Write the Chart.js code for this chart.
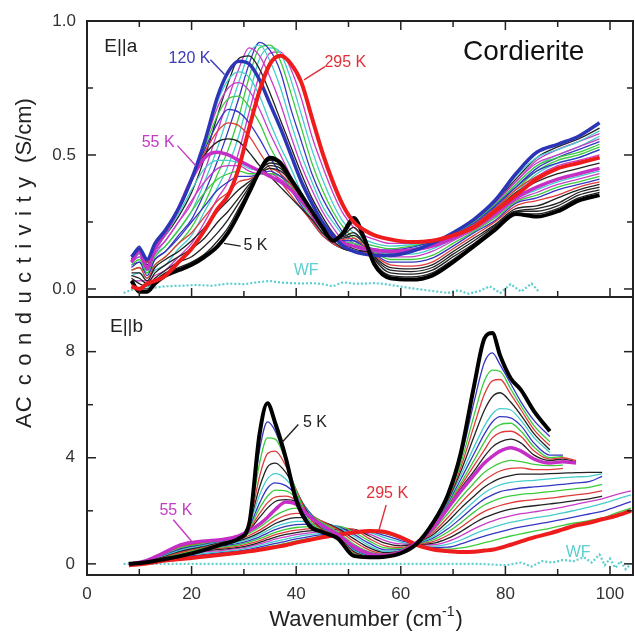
<!DOCTYPE html>
<html>
<head>
<meta charset="utf-8">
<title>Cordierite AC conductivity</title>
<script src="https://cdn.jsdelivr.net/npm/chart.js@4.4.1/dist/chart.umd.min.js"></script>
<style>
  html, body { margin: 0; padding: 0; background: #fff; }
  #wrap { width: 635px; height: 634px; }
</style>
</head>
<body>
<div id="wrap"><canvas id="cond" width="635" height="634"></canvas></div>
<script>
// ---- E||a panel: wavenumber grid (cm-1) and conductivity (S/cm) ----
const xA = [8.5, 10, 11.5, 13, 15, 17.5, 20, 22.5, 25, 27, 29, 31, 33, 35, 37, 39, 41, 43, 45, 47,
            49, 51, 53, 55, 58, 62, 66, 70, 74, 78, 82, 86, 90, 94, 98];

const a5K = [0.03, -0.01, -0.01, 0.02, 0.05, 0.07, 0.09, 0.12, 0.16, 0.21, 0.28, 0.36, 0.44, 0.49, 0.47, 0.41, 0.35, 0.29, 0.23, 0.18,
             0.21, 0.265, 0.19, 0.09, 0.04, 0.035, 0.05, 0.1, 0.16, 0.22, 0.28, 0.27, 0.29, 0.33, 0.35];
const a55K = [0.1, 0.14, 0.08, 0.15, 0.21, 0.3, 0.41, 0.49, 0.51, 0.5, 0.48, 0.46, 0.44, 0.42, 0.4, 0.37, 0.33, 0.28, 0.23, 0.2,
              0.17, 0.16, 0.15, 0.145, 0.14, 0.145, 0.16, 0.19, 0.23, 0.28, 0.34, 0.38, 0.41, 0.43, 0.45];
const a120K = [0.12, 0.15, 0.11, 0.17, 0.22, 0.3, 0.41, 0.55, 0.72, 0.81, 0.85, 0.84, 0.78, 0.69, 0.6, 0.5, 0.4, 0.32, 0.25, 0.2,
               0.16, 0.14, 0.13, 0.125, 0.125, 0.14, 0.17, 0.21, 0.26, 0.33, 0.43, 0.51, 0.54, 0.57, 0.62];
const a295K = [0.01, 0.0, 0.02, 0.03, 0.05, 0.1, 0.15, 0.22, 0.3, 0.35, 0.45, 0.6, 0.74, 0.84, 0.87, 0.84, 0.77, 0.64, 0.51, 0.4,
               0.31, 0.25, 0.22, 0.2, 0.185, 0.175, 0.18, 0.2, 0.23, 0.29, 0.35, 0.41, 0.45, 0.47, 0.49];

// 10 K ... 50 K
const aLowT = [
  [0.03, 0.0, 0.0, 0.03, 0.06, 0.08, 0.1, 0.13, 0.18, 0.23, 0.3, 0.37, 0.44, 0.48, 0.47, 0.41, 0.35, 0.29, 0.23, 0.185, 0.2, 0.25, 0.19, 0.1, 0.05, 0.045, 0.06, 0.11, 0.165, 0.225, 0.28, 0.28, 0.3, 0.34, 0.36],
  [0.04, 0.02, 0.01, 0.04, 0.07, 0.1, 0.12, 0.16, 0.21, 0.26, 0.32, 0.38, 0.44, 0.47, 0.46, 0.41, 0.35, 0.29, 0.23, 0.19, 0.2, 0.23, 0.18, 0.11, 0.06, 0.055, 0.07, 0.12, 0.17, 0.23, 0.29, 0.29, 0.31, 0.35, 0.37],
  [0.05, 0.04, 0.02, 0.06, 0.09, 0.12, 0.15, 0.19, 0.25, 0.29, 0.34, 0.39, 0.43, 0.46, 0.45, 0.4, 0.35, 0.29, 0.23, 0.19, 0.195, 0.21, 0.17, 0.115, 0.07, 0.065, 0.08, 0.13, 0.18, 0.235, 0.29, 0.3, 0.32, 0.36, 0.38],
  [0.06, 0.06, 0.03, 0.08, 0.11, 0.14, 0.18, 0.23, 0.29, 0.33, 0.37, 0.4, 0.43, 0.45, 0.44, 0.4, 0.34, 0.29, 0.23, 0.195, 0.19, 0.2, 0.17, 0.12, 0.08, 0.075, 0.09, 0.14, 0.19, 0.24, 0.3, 0.31, 0.34, 0.37, 0.39],
  [0.07, 0.08, 0.04, 0.09, 0.12, 0.17, 0.21, 0.27, 0.33, 0.36, 0.4, 0.41, 0.43, 0.45, 0.43, 0.39, 0.34, 0.28, 0.23, 0.195, 0.185, 0.19, 0.16, 0.125, 0.09, 0.085, 0.1, 0.15, 0.2, 0.25, 0.31, 0.33, 0.35, 0.38, 0.4],
  [0.08, 0.1, 0.05, 0.11, 0.14, 0.19, 0.25, 0.31, 0.37, 0.4, 0.42, 0.42, 0.43, 0.44, 0.42, 0.39, 0.34, 0.28, 0.23, 0.2, 0.18, 0.18, 0.16, 0.13, 0.1, 0.1, 0.115, 0.16, 0.21, 0.255, 0.32, 0.34, 0.37, 0.39, 0.41],
  [0.09, 0.11, 0.06, 0.12, 0.16, 0.22, 0.29, 0.36, 0.41, 0.43, 0.44, 0.43, 0.43, 0.43, 0.42, 0.38, 0.33, 0.28, 0.23, 0.2, 0.175, 0.17, 0.155, 0.135, 0.11, 0.11, 0.125, 0.17, 0.215, 0.265, 0.325, 0.35, 0.38, 0.4, 0.42],
  [0.1, 0.12, 0.07, 0.13, 0.18, 0.25, 0.33, 0.4, 0.45, 0.46, 0.46, 0.44, 0.43, 0.43, 0.41, 0.38, 0.33, 0.28, 0.23, 0.2, 0.175, 0.17, 0.15, 0.14, 0.12, 0.12, 0.14, 0.18, 0.22, 0.27, 0.33, 0.36, 0.39, 0.41, 0.43],
  [0.1, 0.13, 0.08, 0.14, 0.2, 0.28, 0.37, 0.45, 0.48, 0.48, 0.47, 0.45, 0.44, 0.42, 0.4, 0.37, 0.33, 0.28, 0.23, 0.2, 0.17, 0.16, 0.15, 0.14, 0.13, 0.13, 0.15, 0.185, 0.225, 0.275, 0.335, 0.37, 0.4, 0.42, 0.44]
];
// 60 K ... 110 K
const aMidT = [
  [0.11, 0.15, 0.09, 0.16, 0.21, 0.3, 0.41, 0.5, 0.55, 0.56, 0.55, 0.51, 0.46, 0.42, 0.38, 0.34, 0.3, 0.26, 0.21, 0.18, 0.15, 0.14, 0.14, 0.14, 0.135, 0.145, 0.16, 0.195, 0.235, 0.29, 0.36, 0.4, 0.43, 0.45, 0.47],
  [0.11, 0.15, 0.1, 0.16, 0.21, 0.3, 0.41, 0.51, 0.59, 0.62, 0.61, 0.57, 0.51, 0.45, 0.4, 0.35, 0.3, 0.25, 0.2, 0.17, 0.15, 0.14, 0.135, 0.135, 0.135, 0.14, 0.165, 0.2, 0.24, 0.3, 0.37, 0.42, 0.45, 0.47, 0.49],
  [0.12, 0.16, 0.1, 0.17, 0.21, 0.3, 0.41, 0.52, 0.62, 0.67, 0.66, 0.62, 0.56, 0.49, 0.43, 0.37, 0.31, 0.25, 0.2, 0.17, 0.15, 0.14, 0.13, 0.13, 0.13, 0.14, 0.165, 0.2, 0.245, 0.31, 0.38, 0.44, 0.47, 0.49, 0.52],
  [0.12, 0.16, 0.11, 0.17, 0.22, 0.3, 0.41, 0.53, 0.65, 0.71, 0.72, 0.68, 0.62, 0.53, 0.46, 0.39, 0.32, 0.26, 0.21, 0.17, 0.15, 0.14, 0.13, 0.13, 0.13, 0.14, 0.17, 0.205, 0.25, 0.315, 0.39, 0.46, 0.49, 0.51, 0.54],
  [0.12, 0.15, 0.11, 0.17, 0.22, 0.3, 0.41, 0.54, 0.68, 0.75, 0.77, 0.74, 0.67, 0.58, 0.5, 0.42, 0.34, 0.27, 0.21, 0.17, 0.15, 0.14, 0.13, 0.125, 0.13, 0.14, 0.17, 0.21, 0.255, 0.32, 0.4, 0.47, 0.5, 0.53, 0.56],
  [0.12, 0.15, 0.11, 0.17, 0.22, 0.3, 0.41, 0.54, 0.7, 0.78, 0.81, 0.79, 0.72, 0.62, 0.53, 0.45, 0.36, 0.29, 0.22, 0.18, 0.15, 0.14, 0.13, 0.125, 0.125, 0.14, 0.17, 0.21, 0.26, 0.325, 0.42, 0.49, 0.52, 0.55, 0.59]
];
// 140 K ... 270 K
const aHighT = [
  [0.12, 0.14, 0.1, 0.16, 0.2, 0.27, 0.36, 0.49, 0.65, 0.77, 0.86, 0.87, 0.82, 0.73, 0.63, 0.53, 0.43, 0.34, 0.27, 0.21, 0.17, 0.15, 0.14, 0.13, 0.13, 0.14, 0.17, 0.21, 0.255, 0.325, 0.41, 0.49, 0.53, 0.56, 0.6],
  [0.11, 0.13, 0.09, 0.14, 0.18, 0.25, 0.32, 0.44, 0.59, 0.71, 0.82, 0.9, 0.87, 0.79, 0.69, 0.57, 0.46, 0.37, 0.29, 0.23, 0.18, 0.16, 0.145, 0.14, 0.135, 0.145, 0.17, 0.205, 0.25, 0.32, 0.4, 0.48, 0.52, 0.55, 0.58],
  [0.1, 0.12, 0.08, 0.13, 0.16, 0.22, 0.29, 0.4, 0.53, 0.65, 0.77, 0.88, 0.91, 0.85, 0.75, 0.62, 0.5, 0.4, 0.31, 0.25, 0.2, 0.17, 0.15, 0.145, 0.14, 0.15, 0.17, 0.205, 0.245, 0.31, 0.39, 0.46, 0.5, 0.53, 0.57],
  [0.09, 0.1, 0.07, 0.11, 0.14, 0.2, 0.26, 0.36, 0.48, 0.59, 0.71, 0.84, 0.92, 0.89, 0.81, 0.67, 0.55, 0.43, 0.34, 0.27, 0.21, 0.18, 0.16, 0.15, 0.145, 0.155, 0.175, 0.2, 0.24, 0.305, 0.38, 0.45, 0.49, 0.52, 0.55],
  [0.07, 0.08, 0.06, 0.09, 0.12, 0.17, 0.23, 0.32, 0.43, 0.52, 0.64, 0.79, 0.9, 0.91, 0.85, 0.73, 0.6, 0.47, 0.37, 0.29, 0.23, 0.19, 0.17, 0.16, 0.15, 0.16, 0.175, 0.2, 0.24, 0.3, 0.37, 0.44, 0.48, 0.5, 0.53],
  [0.05, 0.06, 0.04, 0.07, 0.09, 0.15, 0.2, 0.29, 0.38, 0.46, 0.57, 0.72, 0.86, 0.9, 0.88, 0.78, 0.65, 0.52, 0.41, 0.32, 0.25, 0.21, 0.185, 0.17, 0.16, 0.165, 0.175, 0.2, 0.235, 0.3, 0.36, 0.43, 0.47, 0.49, 0.52],
  [0.03, 0.03, 0.03, 0.05, 0.07, 0.12, 0.17, 0.25, 0.34, 0.4, 0.51, 0.66, 0.8, 0.88, 0.885, 0.82, 0.71, 0.57, 0.46, 0.36, 0.28, 0.23, 0.2, 0.185, 0.17, 0.17, 0.18, 0.2, 0.235, 0.295, 0.355, 0.42, 0.46, 0.48, 0.5]
];
// window (WF) reference
const wfAx = [7, 9, 11, 13, 15, 18, 21, 24, 27, 30, 33, 35, 37, 39, 41, 43, 45, 47, 49, 51, 53, 55, 57, 59, 61, 63, 65, 67, 69, 71, 73, 75, 77, 79, 81, 83, 85, 86.5];
const wfAy = [-0.015, 0.0, 0.008, 0.005, 0.01, 0.012, 0.015, 0.012, 0.02, 0.018, 0.026, 0.03, 0.024, 0.022, 0.02, 0.022, 0.018, 0.01, 0.025, 0.02,
              0.02, 0.022, 0.018, 0.012, 0.006, 0.0, -0.005, -0.01, -0.015, -0.005, -0.018, -0.008, 0.01, -0.015, 0.018, -0.01, 0.02, -0.012];

// ---- E||b panel ----
const xB = [8, 11, 14, 18, 22, 26, 29, 31, 33, 34.5, 36, 38, 40, 42.5, 45, 48, 51, 54, 57, 60,
            63, 66, 69, 71.5, 74, 76, 77.5, 79, 81, 83, 85.5, 88.5, 91, 93.5, 96, 98.5, 101, 104];

const b5K = [0.0, 0.05, 0.15, 0.3, 0.5, 0.75, 0.95, 1.5, 4.9, 6.05, 5.3, 4.0, 2.4, 1.45, 1.2, 0.95, 0.3, 0.25, 0.27, 0.4,
             0.75, 1.5, 2.6, 4.2, 6.7, 8.5, 8.7, 7.85, 7.0, 6.55, 5.75, 5.0];
const b55K = [0.0, 0.1, 0.35, 0.72, 0.85, 0.92, 1.05, 1.25, 1.5, 1.75, 2.05, 2.33, 2.25, 1.8, 1.45, 1.1, 0.65, 0.38, 0.32, 0.45,
              0.8, 1.3, 2.1, 2.75, 3.35, 3.8, 4.05, 4.25, 4.38, 4.25, 3.95, 3.8, 3.85, 3.8];
const b295K = [-0.05, 0.0, 0.1, 0.18, 0.27, 0.35, 0.42, 0.47, 0.53, 0.58, 0.63, 0.7, 0.8, 0.9, 1.0, 1.1, 1.18, 1.24, 1.2, 1.0,
               0.72, 0.55, 0.48, 0.45, 0.46, 0.5, 0.53, 0.6, 0.72, 0.85, 1.0, 1.15, 1.3, 1.45, 1.55, 1.68, 1.8, 2.0];

// 10 K ... 50 K
const bLowT = [
  [0, 0.06, 0.17, 0.34, 0.53, 0.76, 0.96, 1.55, 4.3, 5.35, 5.0, 3.9, 2.6, 1.55, 1.22, 0.97, 0.34, 0.26, 0.27, 0.4, 0.75, 1.48, 2.55, 4.0, 6.1, 7.6, 7.95, 7.5, 6.8, 6.1, 5.4, 4.8],
  [0, 0.06, 0.19, 0.38, 0.57, 0.78, 0.97, 1.55, 3.8, 4.75, 4.7, 3.9, 2.75, 1.65, 1.25, 0.99, 0.38, 0.27, 0.28, 0.41, 0.76, 1.46, 2.5, 3.8, 5.6, 6.9, 7.3, 7.25, 6.6, 5.95, 5.2, 4.6],
  [0, 0.07, 0.21, 0.43, 0.6, 0.8, 0.98, 1.5, 3.3, 4.15, 4.25, 3.7, 2.8, 1.75, 1.28, 1.01, 0.42, 0.28, 0.28, 0.41, 0.76, 1.44, 2.45, 3.65, 5.2, 6.4, 6.9, 6.95, 6.4, 5.8, 5.05, 4.45],
  [0, 0.07, 0.23, 0.47, 0.64, 0.82, 0.99, 1.5, 2.9, 3.65, 3.8, 3.45, 2.75, 1.85, 1.3, 1.03, 0.46, 0.29, 0.29, 0.42, 0.77, 1.42, 2.4, 3.5, 4.8, 5.8, 6.3, 6.45, 6.1, 5.6, 4.9, 4.3],
  [0, 0.08, 0.25, 0.52, 0.68, 0.84, 1.0, 1.45, 2.6, 3.2, 3.4, 3.2, 2.7, 1.9, 1.33, 1.05, 0.5, 0.3, 0.29, 0.42, 0.77, 1.4, 2.35, 3.35, 4.4, 5.2, 5.65, 5.85, 5.8, 5.4, 4.75, 4.2],
  [0, 0.08, 0.27, 0.56, 0.71, 0.86, 1.01, 1.4, 2.3, 2.85, 3.05, 2.95, 2.6, 1.95, 1.36, 1.07, 0.54, 0.32, 0.3, 0.43, 0.78, 1.38, 2.3, 3.2, 4.15, 4.9, 5.35, 5.55, 5.5, 5.2, 4.55, 4.1, 4.1],
  [0, 0.09, 0.29, 0.61, 0.75, 0.88, 1.02, 1.35, 2.1, 2.55, 2.78, 2.75, 2.5, 1.95, 1.39, 1.08, 0.58, 0.34, 0.3, 0.43, 0.78, 1.35, 2.25, 3.05, 3.9, 4.6, 5.05, 5.25, 5.3, 5.0, 4.4, 4.0, 4.05],
  [0, 0.09, 0.31, 0.65, 0.78, 0.89, 1.03, 1.32, 1.9, 2.3, 2.52, 2.55, 2.4, 1.95, 1.41, 1.09, 0.61, 0.35, 0.31, 0.44, 0.79, 1.33, 2.2, 2.95, 3.7, 4.3, 4.75, 4.95, 5.0, 4.8, 4.25, 3.95, 4.0, 3.9],
  [0, 0.1, 0.33, 0.69, 0.82, 0.91, 1.04, 1.28, 1.75, 2.1, 2.35, 2.42, 2.35, 1.9, 1.43, 1.1, 0.63, 0.37, 0.31, 0.44, 0.79, 1.31, 2.15, 2.85, 3.5, 4.05, 4.4, 4.6, 4.7, 4.55, 4.1, 3.9, 3.95, 3.85]
];
// 60 K ... 270 K
const bHighT = [
  [0, 0.09, 0.33, 0.67, 0.8, 0.88, 0.98, 1.15, 1.38, 1.6, 1.82, 2.02, 2.1, 1.9, 1.55, 1.2, 0.75, 0.45, 0.35, 0.46, 0.8, 1.22, 1.9, 2.5, 3.05, 3.45, 3.65, 3.8, 3.9, 3.85, 3.75, 3.7, 3.72],
  [0, 0.08, 0.31, 0.62, 0.75, 0.83, 0.93, 1.07, 1.27, 1.46, 1.65, 1.83, 1.9, 1.85, 1.6, 1.28, 0.85, 0.52, 0.38, 0.47, 0.79, 1.15, 1.75, 2.3, 2.8, 3.15, 3.35, 3.5, 3.6, 3.62, 3.55, 3.55, 3.6],
  [0, 0.08, 0.29, 0.58, 0.7, 0.78, 0.87, 1.0, 1.18, 1.35, 1.52, 1.67, 1.74, 1.75, 1.6, 1.33, 0.95, 0.6, 0.42, 0.49, 0.79, 1.08, 1.6, 2.1, 2.55, 2.9, 3.08, 3.22, 3.33, 3.38, 3.38, 3.4, 3.42, 3.44, 3.45, 3.45],
  [0, 0.07, 0.27, 0.54, 0.65, 0.73, 0.82, 0.94, 1.1, 1.25, 1.4, 1.53, 1.6, 1.6, 1.55, 1.38, 1.05, 0.68, 0.47, 0.51, 0.78, 1.01, 1.45, 1.9, 2.35, 2.68, 2.85, 2.98, 3.07, 3.12, 3.15, 3.2, 3.25, 3.28, 3.3, 3.4],
  [0, 0.06, 0.25, 0.5, 0.6, 0.68, 0.77, 0.88, 1.02, 1.16, 1.29, 1.41, 1.48, 1.5, 1.5, 1.4, 1.12, 0.77, 0.53, 0.54, 0.77, 0.95, 1.32, 1.72, 2.15, 2.45, 2.6, 2.72, 2.8, 2.86, 2.9, 2.95, 3.0, 3.05, 3.1, 3.3],
  [0, 0.06, 0.23, 0.46, 0.56, 0.64, 0.72, 0.82, 0.95, 1.07, 1.19, 1.3, 1.37, 1.4, 1.42, 1.42, 1.2, 0.86, 0.6, 0.57, 0.76, 0.89, 1.2, 1.55, 1.95, 2.22, 2.36, 2.47, 2.56, 2.62, 2.66, 2.72, 2.78, 2.84, 2.88, 3.0],
  [0, 0.05, 0.21, 0.42, 0.52, 0.6, 0.67, 0.76, 0.88, 0.99, 1.1, 1.2, 1.27, 1.32, 1.35, 1.36, 1.3, 0.95, 0.68, 0.62, 0.75, 0.83, 1.08, 1.38, 1.74, 1.98, 2.1, 2.2, 2.3, 2.37, 2.42, 2.48, 2.54, 2.6, 2.66, 2.75],
  [0, 0.04, 0.19, 0.38, 0.48, 0.56, 0.62, 0.7, 0.81, 0.91, 1.01, 1.11, 1.18, 1.24, 1.28, 1.3, 1.3, 1.05, 0.78, 0.68, 0.74, 0.77, 0.96, 1.22, 1.53, 1.74, 1.86, 1.96, 2.06, 2.13, 2.19, 2.26, 2.32, 2.39, 2.45, 2.55],
  [0, 0.04, 0.17, 0.34, 0.44, 0.51, 0.58, 0.65, 0.75, 0.84, 0.93, 1.02, 1.1, 1.17, 1.22, 1.25, 1.25, 1.12, 0.88, 0.75, 0.74, 0.72, 0.85, 1.06, 1.32, 1.5, 1.61, 1.71, 1.81, 1.89, 1.96, 2.05, 2.14, 2.24, 2.35, 2.45, 2.6, 2.75],
  [0, 0.03, 0.15, 0.3, 0.39, 0.47, 0.53, 0.6, 0.69, 0.77, 0.85, 0.93, 1.02, 1.1, 1.16, 1.2, 1.22, 1.18, 0.98, 0.82, 0.73, 0.66, 0.74, 0.9, 1.12, 1.28, 1.37, 1.46, 1.56, 1.64, 1.73, 1.82, 1.92, 2.03, 2.14, 2.27, 2.42, 2.6],
  [0, 0.02, 0.13, 0.26, 0.35, 0.43, 0.49, 0.55, 0.63, 0.7, 0.77, 0.85, 0.94, 1.03, 1.1, 1.16, 1.2, 1.2, 1.06, 0.88, 0.73, 0.62, 0.63, 0.75, 0.92, 1.05, 1.13, 1.21, 1.31, 1.39, 1.48, 1.58, 1.68, 1.78, 1.88, 1.98, 2.14, 2.35],
  [0, 0.01, 0.12, 0.22, 0.31, 0.39, 0.45, 0.51, 0.58, 0.64, 0.7, 0.77, 0.87, 0.96, 1.05, 1.13, 1.2, 1.22, 1.14, 0.95, 0.72, 0.58, 0.55, 0.6, 0.7, 0.8, 0.87, 0.95, 1.05, 1.13, 1.23, 1.34, 1.45, 1.55, 1.63, 1.72, 1.9, 2.1]
];
const wfBx = [7, 15, 25, 35, 45, 55, 65, 75, 80, 83, 85, 87, 89, 91, 93, 95, 96.5, 98, 99, 100, 101, 102, 103, 104];
const wfBy = [0, 0, 0, 0, 0, 0, 0, 0, -0.05, 0.05, -0.1, 0.1, 0.05, 0.15, 0.1, 0.25, 0.05, 0.35, -0.05, 0.2, -0.15, 0.1, -0.2, 0.0];

// ---- styles ----
const FONT = 'Arial, "Liberation Sans", Helvetica, sans-serif';
const K = '#222222', R = '#e03a3a', B = '#3636c4', G = '#3ccc3c', M = '#c83cc8', C = '#45cccc';
const WF = '#5ccfcf';
const aLowColors = [K, K, K, K, R, B, G, M, C];
const aMidColors = [K, R, B, G, M, C];
const aHighColors = [K, M, C, B, G, C, M];
const bLowColors = [B, G, R, K, C, B, G, R, K];
const bHighColors = [G, R, K, C, B, G, R, K, M, C, B, G];

function curve(xs, ys, color, width, axis, order) {
  return {
    data: ys.map((v, i) => ({ x: xs[i], y: v })),
    borderColor: color,
    borderWidth: width,
    yAxisID: axis,
    pointRadius: 0,
    cubicInterpolationMode: 'monotone',
    fill: false,
    order: order
  };
}
function dotted(xs, ys, axis) {
  const d = curve(xs, ys, WF, 2.2, axis, 5);
  d.borderDash = [2, 2];
  d.cubicInterpolationMode = 'default';
  d.tension = 0;
  return d;
}

const datasets = [];
aLowT.forEach((ys, i) => datasets.push(curve(xA, ys, aLowColors[i], 1.3, 'yA', 10)));
aMidT.forEach((ys, i) => datasets.push(curve(xA, ys, aMidColors[i], 1.3, 'yA', 10)));
aHighT.forEach((ys, i) => datasets.push(curve(xA, ys, aHighColors[i], 1.3, 'yA', 10)));
datasets.push(dotted(wfAx, wfAy, 'yA'));
datasets.push(curve(xA, a55K, '#c52fc5', 3.5, 'yA', 3));
datasets.push(curve(xA, a120K, '#2b35b5', 3.5, 'yA', 2));
datasets.push(curve(xA, a5K, '#000000', 4, 'yA', 1));
datasets.push(curve(xA, a295K, '#ee1c1c', 4, 'yA', 0));

bLowT.forEach((ys, i) => datasets.push(curve(xB, ys, bLowColors[i], 1.3, 'yB', 10)));
bHighT.forEach((ys, i) => datasets.push(curve(xB, ys, bHighColors[i], 1.3, 'yB', 10)));
datasets.push(dotted(wfBx, wfBy, 'yB'));
datasets.push(curve(xB, b295K, '#ee1c1c', 4, 'yB', 2));
datasets.push(curve(xB, b55K, '#c52fc5', 3.5, 'yB', 1));
datasets.push(curve(xB, b5K, '#000000', 4, 'yB', 0));

// ---- text labels on the panels (data coordinates) ----
const notes = [
  { axis: 'yA', text: 'E||a', x: 3.3, y: 0.905, color: '#222', size: 19, align: 'left' },
  { axis: 'yA', text: 'Cordierite', x: 71.9, y: 0.884, color: '#111', size: 28, align: 'left' },
  { axis: 'yA', text: '120 K', x: 19.6, y: 0.86, color: '#3b3bb8', size: 16, align: 'center' },
  { axis: 'yA', text: '295 K', x: 49.4, y: 0.845, color: '#e0303a', size: 16, align: 'center' },
  { axis: 'yA', text: '55 K', x: 13.6, y: 0.545, color: '#c23cc2', size: 16, align: 'center' },
  { axis: 'yA', text: '5 K', x: 32.2, y: 0.16, color: '#222', size: 16, align: 'center' },
  { axis: 'yA', text: 'WF', x: 41.9, y: 0.067, color: WF, size: 16, align: 'center' },
  { axis: 'yB', text: 'E||b', x: 4.4, y: 8.94, color: '#222', size: 19, align: 'left' },
  { axis: 'yB', text: '5 K', x: 43.6, y: 5.32, color: '#222', size: 16, align: 'center' },
  { axis: 'yB', text: '55 K', x: 17, y: 2.0, color: '#c23cc2', size: 16, align: 'center' },
  { axis: 'yB', text: '295 K', x: 57.4, y: 2.64, color: '#e0303a', size: 16, align: 'center' },
  { axis: 'yB', text: 'WF', x: 93.9, y: 0.41, color: WF, size: 16, align: 'center' }
];
const pointers = [
  { axis: 'yA', color: '#3b3bb8', from: [23.6, 0.855], to: [26.3, 0.8] },
  { axis: 'yA', color: '#e0303a', from: [45.5, 0.83], to: [41.5, 0.78] },
  { axis: 'yA', color: '#c23cc2', from: [17.3, 0.535], to: [20.8, 0.46] },
  { axis: 'yA', color: '#222', from: [29.4, 0.16], to: [26.2, 0.17] },
  { axis: 'yB', color: '#222', from: [40.4, 5.25], to: [37.4, 4.6] },
  { axis: 'yB', color: '#c23cc2', from: [16.5, 1.66], to: [20, 0.85] },
  { axis: 'yB', color: '#e0303a', from: [57.2, 2.22], to: [55.8, 1.26] }
];

const xTicks = [10, 20, 30, 40, 50, 60, 70, 80, 90, 100];
const xLabels = [0, 20, 40, 60, 80, 100];
const yATicks = [0, 0.25, 0.5, 0.75];
const yALabels = [0, 0.5, 1.0];
const yBTicks = [0, 2, 4, 6, 8];
const yBLabels = [0, 4, 8];

function drawSpaced(ctx, text, x0, y0, gap) {
  let px = x0;
  for (const ch of text) {
    ctx.fillText(ch, px, y0);
    px += ctx.measureText(ch).width + gap;
  }
  return px - gap;
}
function spacedWidth(ctx, text, gap) {
  let w = 0;
  for (const ch of text) w += ctx.measureText(ch).width + gap;
  return w - gap;
}

const panelDecor = {
  id: 'panelDecor',
  afterDatasetsDraw(chart) {
    const { ctx } = chart;
    const x = chart.scales.x, yA = chart.scales.yA, yB = chart.scales.yB;
    ctx.save();

    // frames
    ctx.strokeStyle = '#222';
    ctx.lineWidth = 2;
    [yA, yB].forEach(y => ctx.strokeRect(x.left, y.top, x.right - x.left, y.bottom - y.top));

    // inward ticks
    ctx.lineWidth = 1.5;
    const line = (x1, y1, x2, y2) => { ctx.beginPath(); ctx.moveTo(x1, y1); ctx.lineTo(x2, y2); ctx.stroke(); };
    xTicks.forEach(v => {
      const px = x.getPixelForValue(v);
      const len = v % 20 === 0 ? 9 : 6;
      line(px, yA.top, px, yA.top + len);
      line(px, yA.bottom, px, yA.bottom - len);
      line(px, yB.bottom, px, yB.bottom - len);
    });
    yATicks.forEach(v => {
      const py = yA.getPixelForValue(v);
      const len = v % 0.5 === 0 ? 9 : 6;
      line(x.left, py, x.left + len, py);
      line(x.right, py, x.right - len, py);
    });
    yBTicks.forEach(v => {
      const py = yB.getPixelForValue(v);
      const len = v % 4 === 0 ? 9 : 6;
      line(x.left, py, x.left + len, py);
      line(x.right, py, x.right - len, py);
    });

    // tick labels
    ctx.fillStyle = '#333';
    ctx.font = '17px ' + FONT;
    ctx.textAlign = 'center';
    ctx.textBaseline = 'middle';
    xLabels.forEach(v => ctx.fillText(String(v), x.getPixelForValue(v), yB.bottom + 19));
    ctx.textAlign = 'right';
    yALabels.forEach(v => ctx.fillText(v.toFixed(1), x.left - 11, yA.getPixelForValue(v)));
    yBLabels.forEach(v => ctx.fillText(String(v), x.left - 12, yB.getPixelForValue(v)));

    // x title with superscript
    ctx.fillStyle = '#222';
    ctx.textBaseline = 'alphabetic';
    ctx.textAlign = 'left';
    const main = 'Wavenumber (cm';
    ctx.font = '22px ' + FONT;
    const wMain = ctx.measureText(main).width;
    const wClose = ctx.measureText(')').width;
    ctx.font = '14px ' + FONT;
    const wSup = ctx.measureText('-1').width;
    let tx = (x.left + x.right) / 2 + 6 - (wMain + wSup + wClose + 1) / 2;
    const base = 626;
    ctx.font = '22px ' + FONT;
    ctx.fillText(main, tx, base);
    tx += wMain;
    ctx.font = '14px ' + FONT;
    ctx.fillText('-1', tx, base - 10);
    tx += wSup + 1;
    ctx.font = '22px ' + FONT;
    ctx.fillText(')', tx, base);

    // y title, rotated, with letter-spaced middle word
    ctx.save();
    ctx.translate(25, 263);
    ctx.rotate(-Math.PI / 2);
    ctx.font = '22px ' + FONT;
    ctx.textBaseline = 'middle';
    const gapWord = 11, gapUnit = 14, spread = 8.5;
    const total = spacedWidth(ctx, 'AC', 1) + gapWord + spacedWidth(ctx, 'conductivity', spread) + gapUnit + ctx.measureText('(S/cm)').width;
    let p = -total / 2;
    p = drawSpaced(ctx, 'AC', p, 0, 1) + gapWord;
    p = drawSpaced(ctx, 'conductivity', p, 0, spread) + gapUnit;
    ctx.fillText('(S/cm)', p, 0);
    ctx.restore();

    // pointer lines and labels
    ctx.lineWidth = 1.4;
    pointers.forEach(pt => {
      const ys = chart.scales[pt.axis];
      ctx.strokeStyle = pt.color;
      line(x.getPixelForValue(pt.from[0]), ys.getPixelForValue(pt.from[1]),
           x.getPixelForValue(pt.to[0]), ys.getPixelForValue(pt.to[1]));
    });
    ctx.textBaseline = 'middle';
    notes.forEach(n => {
      const ys = chart.scales[n.axis];
      ctx.font = n.size + 'px ' + FONT;
      ctx.fillStyle = n.color;
      ctx.textAlign = n.align;
      ctx.fillText(n.text, x.getPixelForValue(n.x), ys.getPixelForValue(n.y));
    });
    ctx.restore();
  }
};

new Chart(document.getElementById('cond'), {
  type: 'line',
  data: { datasets: datasets },
  plugins: [panelDecor],
  options: {
    responsive: false,
    devicePixelRatio: 1,
    animation: false,
    layout: { padding: { left: 87, top: 21, right: 2, bottom: 59 } },
    plugins: { legend: { display: false }, tooltip: { enabled: false } },
    scales: {
      x: { type: 'linear', min: 0, max: 104.4, display: false },
      yB: { type: 'linear', position: 'left', stack: 'panels', stackWeight: 278, min: -0.42, max: 10.06, display: false },
      yA: { type: 'linear', position: 'left', stack: 'panels', stackWeight: 276, min: -0.03, max: 1.0, display: false }
    }
  }
});
</script>
</body>
</html>
